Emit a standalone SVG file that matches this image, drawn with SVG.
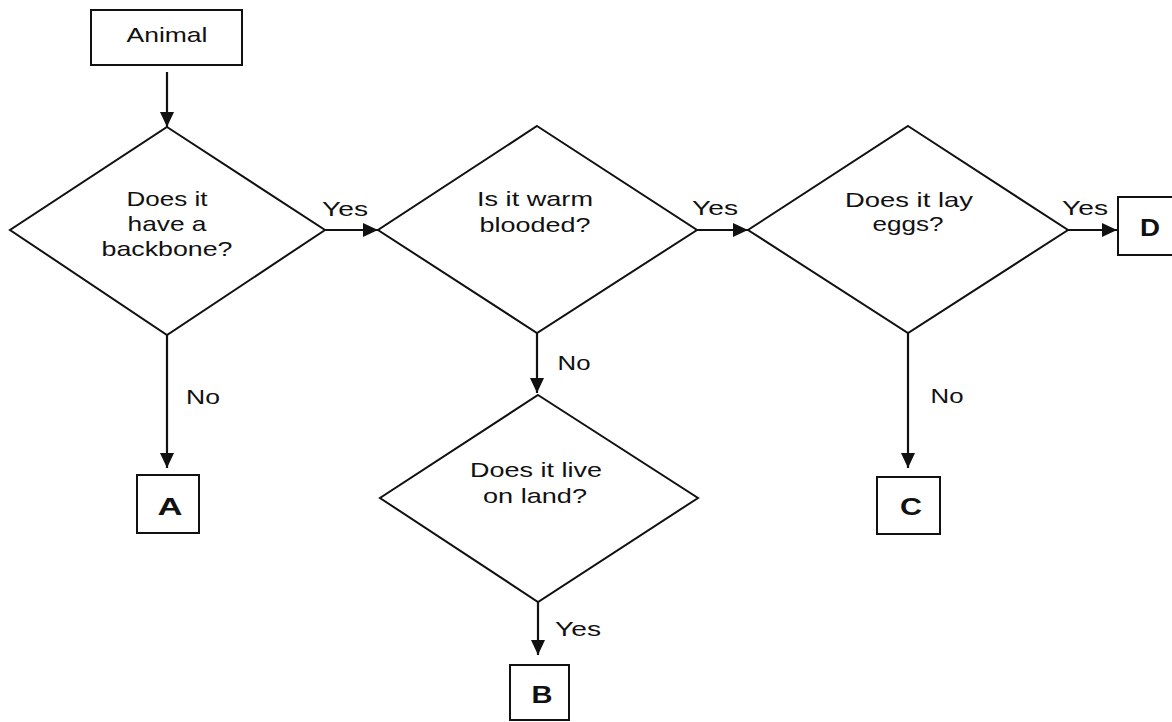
<svg xmlns="http://www.w3.org/2000/svg" width="1172" height="722" viewBox="0 0 1172 722">
  <style>
    .shape { fill: #ffffff; stroke: #111111; stroke-width: 2; }
    .txt { font-family: "Liberation Sans", Arial, sans-serif; font-size: 21px; fill: #111111; text-anchor: middle; }
    .big { font-family: "Liberation Sans", Arial, sans-serif; font-size: 24px; font-weight: bold; fill: #111111; text-anchor: middle; }
    .conn { fill: none; stroke: #111111; stroke-width: 2.2; marker-end: url(#arrow); }
  </style>
  <defs>
    <marker id="arrow" markerUnits="userSpaceOnUse" markerWidth="16" markerHeight="15" refX="15" refY="7" orient="auto">
      <path d="M0,0 L15,7 L0,14 Z" fill="#111111"/>
    </marker>
  </defs>
  <rect width="1172" height="722" fill="#ffffff"/>

  <g id="connectors">
    <line class="conn" x1="167" y1="72" x2="167" y2="127"/>
    <line class="conn" x1="325" y1="230" x2="378" y2="230"/>
    <line class="conn" x1="697" y1="230" x2="748" y2="230"/>
    <line class="conn" x1="1068" y1="230" x2="1117" y2="230"/>
    <line class="conn" x1="167" y1="335" x2="167" y2="468"/>
    <line class="conn" x1="537" y1="333" x2="537" y2="393"/>
    <line class="conn" x1="908" y1="333" x2="908" y2="468"/>
    <line class="conn" x1="538" y1="602" x2="538" y2="655"/>
    <text class="txt" x="345" y="216" textLength="46" lengthAdjust="spacingAndGlyphs">Yes</text>
    <text class="txt" x="715" y="215" textLength="46" lengthAdjust="spacingAndGlyphs">Yes</text>
    <text class="txt" x="1085" y="215" textLength="46" lengthAdjust="spacingAndGlyphs">Yes</text>
    <text class="txt" x="203" y="404" textLength="34" lengthAdjust="spacingAndGlyphs">No</text>
    <text class="txt" x="574" y="370" textLength="33" lengthAdjust="spacingAndGlyphs">No</text>
    <text class="txt" x="947" y="403" textLength="33" lengthAdjust="spacingAndGlyphs">No</text>
    <text class="txt" x="578" y="636" textLength="46" lengthAdjust="spacingAndGlyphs">Yes</text>
  </g>

  <g id="node-animal">
    <rect class="shape" x="91" y="10" width="151" height="55"/>
    <text class="txt" x="167" y="42" textLength="81" lengthAdjust="spacingAndGlyphs">Animal</text>
  </g>

  <g id="node-backbone">
    <polygon class="shape" points="167,127 325,230 167,335 10,230"/>
    <text class="txt" x="167" y="206" textLength="81" lengthAdjust="spacingAndGlyphs">Does it</text>
    <text class="txt" x="167" y="231" textLength="79" lengthAdjust="spacingAndGlyphs">have a</text>
    <text class="txt" x="167" y="256" textLength="131" lengthAdjust="spacingAndGlyphs">backbone?</text>
  </g>

  <g id="node-warm">
    <polygon class="shape" points="537,126 697,230 537,333 378,230"/>
    <text class="txt" x="535" y="206" textLength="116" lengthAdjust="spacingAndGlyphs">Is it warm</text>
    <text class="txt" x="535" y="232" textLength="111" lengthAdjust="spacingAndGlyphs">blooded?</text>
  </g>

  <g id="node-eggs">
    <polygon class="shape" points="908,126 1068,230 908,333 748,230"/>
    <text class="txt" x="909" y="207" textLength="128" lengthAdjust="spacingAndGlyphs">Does it lay</text>
    <text class="txt" x="908" y="231" textLength="71" lengthAdjust="spacingAndGlyphs">eggs?</text>
  </g>

  <g id="node-land">
    <polygon class="shape" points="538,395 698,498 538,602 380,498"/>
    <text class="txt" x="536" y="477" textLength="132" lengthAdjust="spacingAndGlyphs">Does it live</text>
    <text class="txt" x="535" y="503" textLength="104" lengthAdjust="spacingAndGlyphs">on land?</text>
  </g>

  <g id="node-a">
    <rect class="shape" x="137" y="475" width="62" height="58"/>
    <text class="big" x="170" y="515" textLength="25" lengthAdjust="spacingAndGlyphs">A</text>
  </g>

  <g id="node-b">
    <rect class="shape" x="510" y="665" width="59" height="55"/>
    <text class="big" x="542" y="703" textLength="21" lengthAdjust="spacingAndGlyphs">B</text>
  </g>

  <g id="node-c">
    <rect class="shape" x="877" y="477" width="63" height="57"/>
    <text class="big" x="911" y="515" textLength="22" lengthAdjust="spacingAndGlyphs">C</text>
  </g>

  <g id="node-d">
    <rect class="shape" x="1118" y="197" width="62" height="58"/>
    <text class="big" x="1150" y="236" textLength="20" lengthAdjust="spacingAndGlyphs">D</text>
  </g>
</svg>
